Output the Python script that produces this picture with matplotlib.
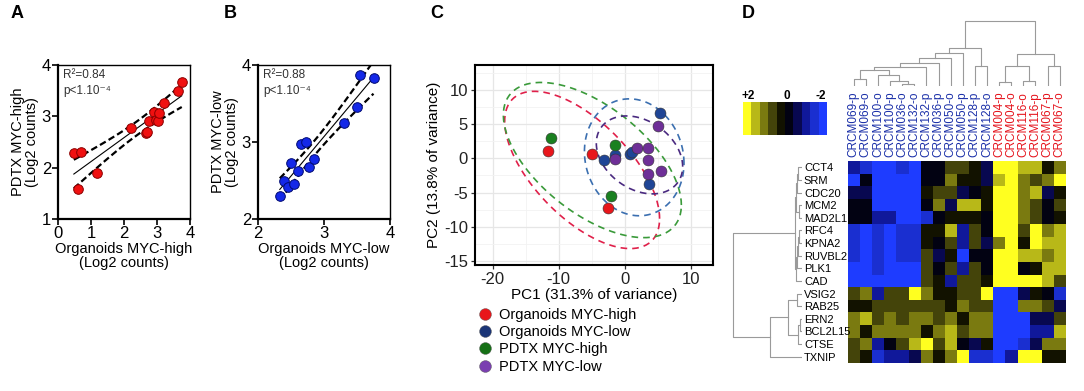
import numpy as np
import matplotlib
matplotlib.use('Agg')
import matplotlib.pyplot as plt
from matplotlib.colors import ListedColormap
from matplotlib.lines import Line2D

plt.rcParams['font.family'] = ['Liberation Sans', 'DejaVu Sans']
plt.rcParams['axes.unicode_minus'] = False

W, H = 1084, 391

## panel A : MYC-high, organoids vs PDTX (log2 counts)
orgA = [0.48, 0.70, 0.62, 1.19, 2.20, 2.67, 2.70, 2.76, 2.92, 2.96, 3.04, 3.06, 3.22, 3.63, 3.75]
pdtxA = [2.29, 2.31, 1.58, 1.89, 2.77, 2.68, 2.70, 2.91, 3.09, 2.92, 2.90, 3.06, 3.26, 3.50, 3.66]
statsA = ['R²=0.84', 'p<1.10⁻⁴']

## panel B : MYC-low
orgB = [2.33, 2.40, 2.45, 2.50, 2.55, 2.60, 2.65, 2.72, 2.78, 2.85, 3.30, 3.50, 3.55, 3.75]
pdtxB = [2.30, 2.50, 2.42, 2.73, 2.45, 2.62, 2.98, 3.00, 2.68, 2.78, 3.25, 3.45, 3.87, 3.83]
statsB = ['R²=0.88', 'p<1.10⁻⁴']

## panel C : PCA
groups = ['Organoids MYC-high', 'Organoids MYC-low', 'PDTX MYC-high', 'PDTX MYC-low']
pc1 = [[-11.6, -4.9, -2.5],
       [-3.1, -1.5, 0.8, 1.1, 3.7, 5.4],
       [-11.1, -1.4, -2.0],
       [-1.5, 1.9, 3.6, 3.5, 3.6, 5.5, 5.1]]
pc2 = [[1.1, 0.7, -7.2],
       [-0.2, 0.5, 0.6, 0.9, -3.7, 6.6],
       [3.0, 1.9, -5.5],
       [-0.1, 1.5, 1.5, -0.2, -2.3, -1.8, 4.7]]
## ellipses: centre, half extent in x / y, correlation
ell_cx = [-6.45, 1.45, -4.9, 2.25]
ell_cy = [-1.7, 0.15, -0.25, 0.5]
ell_sx = [11.75, 7.55, 13.5, 6.55]
ell_sy = [11.5, 8.55, 11.35, 5.7]
ell_rho = [-0.62, -0.1, -0.58, -0.3]

## panel D : heatmap
samples = ['CRCM069-p', 'CRCM069-o', 'CRCM100-o', 'CRCM100-p', 'CRCM036-o', 'CRCM132-o',
           'CRCM132-p', 'CRCM036-p', 'CRCM050-o', 'CRCM050-p', 'CRCM128-p', 'CRCM128-o',
           'CRCM004-p', 'CRCM004-o', 'CRCM116-o', 'CRCM116-p', 'CRCM067-p', 'CRCM067-o']
sample_high = [0]*12 + [1]*6
genes = ['CCT4', 'SRM', 'CDC20', 'MCM2', 'MAD2L1', 'RFC4', 'KPNA2', 'RUVBL2', 'PLK1', 'CAD',
         'VSIG2', 'RAB25', 'ERN2', 'BCL2L15', 'CTSE', 'TXNIP']
expr = [
    [-1.2, -1.3, -1.8, -2.0, -1.5, -2.0, -0.4, -0.2, 0.5, 0.6, 0.0, -0.5, 2.0, 2.0, 1.5, 1.3, 0.3, 1.0],
    [-1.7, -0.2, -1.8, -2.0, -1.7, -2.0, -0.2, -0.3, 1.0, 0.3, 0.3, -0.5, 1.2, 2.0, 1.0, 0.6, 1.0, 1.8],
    [-0.5, -0.5, -2.0, -2.0, -1.8, -2.0, 0.0, 0.6, 0.4, -0.5, -0.4, 0.2, 2.0, 2.0, 1.0, 1.5, -0.6, 0.1],
    [-0.4, -0.4, -2.0, -2.0, -1.8, -2.0, -0.2, 0.9, -0.5, 1.2, 1.2, 0.0, 2.0, 2.0, 0.8, 0.4, -0.2, 0.4],
    [-0.3, -0.3, -1.2, -1.2, -1.8, -1.8, -1.3, -0.3, 0.0, 0.3, 0.2, -0.3, 2.0, 2.0, 0.8, 0.5, -0.2, 0.1],
    [-1.5, -2.0, -1.3, -2.0, -1.5, -1.5, 0.2, 0.2, 1.2, -1.0, 0.5, -0.2, 2.0, 1.7, 0.5, 1.6, 0.8, 1.2],
    [-1.5, -2.0, -1.3, -2.0, -1.5, -1.5, 0.3, -0.3, 0.5, -1.2, 0.7, -0.6, 1.0, 2.0, 0.3, 1.6, 1.3, 1.5],
    [-1.5, -1.6, -1.3, -2.0, -1.3, -1.5, 0.5, -0.8, 0.0, -1.8, -0.2, -0.3, 1.8, 2.0, 1.4, 1.5, 1.0, 1.5],
    [-1.6, -1.6, -1.5, -2.0, -1.8, -2.0, 0.4, -0.2, 0.5, -1.0, 0.5, -0.2, 2.0, 2.0, -0.1, 0.3, 1.2, 1.2],
    [-2.0, -2.0, -1.6, -1.8, -2.0, -2.0, 0.6, 0.0, -1.0, 0.6, 0.6, 0.3, 1.6, 2.0, 1.6, 1.6, 1.5, 0.5],
    [0.5, 1.0, -1.2, 0.6, 0.6, 1.6, 0.8, 0.3, 0.2, 0.5, 0.5, 1.6, -2.0, -1.8, -0.8, 0.3, -0.2, -1.3],
    [0.3, 0.2, 0.6, 0.6, 0.6, 0.6, 0.5, 0.6, 0.0, 1.0, 0.5, 0.5, -2.0, -1.8, 0.8, 0.8, 0.5, -0.8],
    [1.0, 1.2, 0.5, 0.8, 0.6, 1.0, 1.0, 0.5, 1.0, 0.0, 0.8, 1.0, -2.0, -2.0, -1.8, -0.5, -0.5, 0.5],
    [1.0, 0.3, 0.8, 1.0, 0.8, 1.0, 0.3, 1.0, 1.3, 0.6, 0.8, 0.8, -1.8, -2.0, -2.0, -1.2, -1.0, 1.5],
    [0.6, 1.0, -1.2, -0.3, 0.6, 1.2, 2.0, 0.5, 1.2, -0.3, -0.5, 0.3, -2.0, -1.8, -1.5, -0.5, 1.0, 1.0],
    [0.6, 0.3, -1.5, -1.0, -1.2, -0.8, 1.0, 0.0, 1.0, 2.0, -1.5, -1.5, -2.0, -1.2, 2.0, 1.6, 0.3, 0.3],
]
## linkage (left, right, height) ; ids >= n_leaves are earlier merges
col_merges = [(0, 1, 6.7), (4, 5, 2.3), (3, 19, 5.0), (2, 20, 10.7), (18, 21, 15.7),
              (22, 6, 19.0), (23, 7, 23.3), (24, 8, 28.3), (25, 9, 33.3), (10, 11, 20.0),
              (26, 27, 37.7), (12, 13, 4.0), (14, 15, 5.0), (29, 30, 20.0), (16, 17, 20.0),
              (31, 32, 32.3), (28, 33, 65.0)]
row_merges = [(0, 1, 4.0), (16, 2, 5.0), (3, 4, 3.0), (17, 18, 6.0), (5, 6, 3.0),
              (20, 7, 4.0), (21, 8, 5.0), (22, 9, 6.0), (19, 23, 7.0), (10, 11, 5.0),
              (12, 13, 2.0), (26, 14, 4.0), (25, 27, 13.7), (28, 15, 31.7), (24, 29, 68.4)]
cbar_ticks = ['+2', '0', '-2']


def rect(x0, y0, x1, y1):
    ## pixel box -> figure fraction
    return [x0 / W, 1 - y1 / H, (x1 - x0) / W, (y1 - y0) / H]


def corr_panel(ax, x, y, col, edge, lims_x, lims_y, stats, xl, yl):
    x = np.array(x)
    y = np.array(y)
    b1, b0 = np.polyfit(x, y, 1)
    xs = np.linspace(x.min(), x.max(), 60)
    ys = b0 + b1 * xs
    n = len(x)
    s = np.sqrt(np.sum((y - (b0 + b1 * x))**2) / (n - 2))
    se = s * np.sqrt(1 / n + (xs - x.mean())**2 / np.sum((x - x.mean())**2))
    t = 2.16
    ax.plot(xs, ys, color='k', lw=0.8)
    ax.plot(xs, ys + t * se, color='k', lw=1.6, dashes=(3, 1.5))
    ax.plot(xs, ys - t * se, color='k', lw=1.6, dashes=(3, 1.5))
    ax.scatter(x, y, s=48, c=col, edgecolors=edge, linewidths=0.7, zorder=3)
    ax.set_xlim(lims_x)
    ax.set_ylim(lims_y)
    ax.set_xticks(np.arange(lims_x[0], lims_x[1] + 1))
    ax.set_yticks(np.arange(lims_y[0], lims_y[1] + 1))
    ax.tick_params(direction='out', length=4, width=1.2, labelsize=12, pad=1)
    for sp in ['left', 'bottom']:
        ax.spines[sp].set_linewidth(1.6)
    for sp in ['top', 'right']:
        ax.spines[sp].set_linewidth(1.0)
    ax.text(0.04, 0.975, stats[0] + '\n' + stats[1], transform=ax.transAxes, ha='left',
            va='top', fontsize=8.5, color='#333333', linespacing=1.45)
    ax.set_xlabel(xl, fontsize=10.5, labelpad=1, linespacing=1.0)
    ax.set_ylabel(yl, fontsize=10.5, labelpad=2, linespacing=1.0)


def dendro(ax, merges, n, vertical=True):
    pos = list(range(n))
    hgt = [0.0] * n
    for a, b, h in merges:
        xa, xb = pos[a], pos[b]
        if vertical:
            ax.plot([xa, xa, xb, xb], [hgt[a], h, h, hgt[b]], color='#9a9a9a', lw=0.8)
        else:
            ax.plot([hgt[a], h, h, hgt[b]], [xa, xa, xb, xb], color='#9a9a9a', lw=0.8)
        pos.append((xa + xb) / 2)
        hgt.append(h)
    ax.axis('off')


fig = plt.figure(figsize=(W / 100, H / 100), dpi=100)

#%% A and B
axA = fig.add_axes(rect(58, 65, 190, 219))
corr_panel(axA, orgA, pdtxA, '#f01010', '#8a0000', (0, 4), (1, 4), statsA,
           'Organoids MYC-high\n(Log2 counts)', 'PDTX MYC-high\n(Log2 counts)')
axB = fig.add_axes(rect(258, 65, 390, 219))
corr_panel(axB, orgB, pdtxB, '#1428e8', '#000a70', (2, 4), (2, 4), statsB,
           'Organoids MYC-low\n(Log2 counts)', 'PDTX MYC-low\n(Log2 counts)')

#%% C
pt_cols = ['#e8161b', '#1f4596', '#1a8020', '#6e2f97']
leg_cols = ['#e8161b', '#1b3577', '#167016', '#7a3fb0']
ell_cols = ['#e0204a', '#3b6fb0', '#3a9a3a', '#4a2a80']
axC = fig.add_axes(rect(475, 65, 713, 265))
tt = np.linspace(0, 2 * np.pi, 200)
for g in [0, 2, 1, 3]:
    cov = np.array([[ell_sx[g]**2, ell_rho[g] * ell_sx[g] * ell_sy[g]],
                    [ell_rho[g] * ell_sx[g] * ell_sy[g], ell_sy[g]**2]])
    L = np.linalg.cholesky(cov)
    pts = L @ np.vstack([np.cos(tt), np.sin(tt)])
    axC.plot(ell_cx[g] + pts[0], ell_cy[g] + pts[1], color=ell_cols[g], lw=1.2, dashes=(4, 3))
for g in range(4):
    axC.scatter(pc1[g], pc2[g], s=62, c=pt_cols[g], edgecolors='#333333', linewidths=0.4, zorder=3)
axC.set_xlim(-22.7, 13.4)
axC.set_ylim(-15.6, 13.65)
axC.set_xticks([-20, -10, 0, 10])
axC.set_yticks([-15, -10, -5, 0, 5, 10])
axC.set_xticks([-15, -5, 5], minor=True)
axC.set_yticks([-12.5, -7.5, -2.5, 2.5, 7.5, 12.5], minor=True)
axC.grid(True, which='major', color='#e6e6e6', lw=0.9)
axC.grid(True, which='minor', color='#f2f2f2', lw=0.6)
axC.set_axisbelow(True)
axC.tick_params(which='major', direction='out', length=3, width=0.9, color='#333333',
                labelsize=12, labelcolor='#222222', pad=2)
axC.tick_params(which='minor', length=0)
for sp in axC.spines.values():
    sp.set_linewidth(1.5)
axC.set_xlabel('PC1 (31.3% of variance)', fontsize=11, labelpad=1)
axC.set_ylabel('PC2 (13.8% of variance)', fontsize=11, labelpad=2)
handles = [Line2D([], [], ls='', marker='o', ms=8.5, mfc=leg_cols[g], mec='#555555', mew=0.3)
           for g in range(4)]
fig.legend(handles, groups, loc='upper left', bbox_to_anchor=(478 / W, 1 - 308 / H),
           frameon=False, fontsize=10.5, handlelength=1.0, handletextpad=0.45,
           labelspacing=0.22, borderpad=0, borderaxespad=0)

#%% D
dcols = ['#1e3cff', '#1a2fd0', '#10189a', '#080850', '#020212',
         '#121200', '#44440a', '#7a7a10', '#b8b818', '#ffff20']
cmap = ListedColormap(dcols)
axH = fig.add_axes(rect(847.7, 161, 1065.7, 363))
axH.imshow(np.array(expr), cmap=cmap, vmin=-2, vmax=2, aspect='auto', interpolation='nearest')
axH.xaxis.tick_top()
axH.set_xticks(range(len(samples)))
axH.set_xticklabels(samples, rotation=90, fontsize=8.5)
for lbl, hi in zip(axH.get_xticklabels(), sample_high):
    lbl.set_color('#e5121b' if hi else '#1a2fa8')
axH.set_yticks(range(len(genes)))
axH.set_yticklabels(genes, fontsize=8)
for lbl in axH.get_yticklabels():
    lbl.set_horizontalalignment('left')
axH.tick_params(length=0, top=True, bottom=False, labeltop=True, labelbottom=False)
axH.tick_params(axis='x', pad=3)
axH.tick_params(axis='y', pad=31.5)
for sp in axH.spines.values():
    sp.set_visible(False)

axCD = fig.add_axes(rect(847.7, 19, 1065.7, 86))
dendro(axCD, col_merges, len(samples), vertical=True)
axCD.set_xlim(-0.5, len(samples) - 0.5)
axCD.set_ylim(0, 67)

axRD = fig.add_axes(rect(731, 161, 802, 363))
dendro(axRD, row_merges, len(genes), vertical=False)
axRD.set_xlim(70.5, 0)
axRD.set_ylim(len(genes) - 0.5, -0.5)

axK = fig.add_axes(rect(742.7, 101.7, 826.7, 135))
axK.imshow(np.linspace(1.8, -1.8, 10)[None, :], cmap=cmap, vmin=-2, vmax=2, aspect='auto')
axK.axis('off')
for lab, xp in zip(cbar_ticks, [748, 786.7, 821]):
    fig.text(xp / W, 1 - 96 / H, lab, ha='center', va='center', fontsize=8.5, fontweight='bold')

## panel letters
for lab, xp in zip(['A', 'B', 'C', 'D'], [17, 230, 437, 748]):
    fig.text(xp / W, 1 - 13 / H, lab, ha='center', va='center', fontsize=13, fontweight='bold')

fig.savefig('out.png', dpi=100)
